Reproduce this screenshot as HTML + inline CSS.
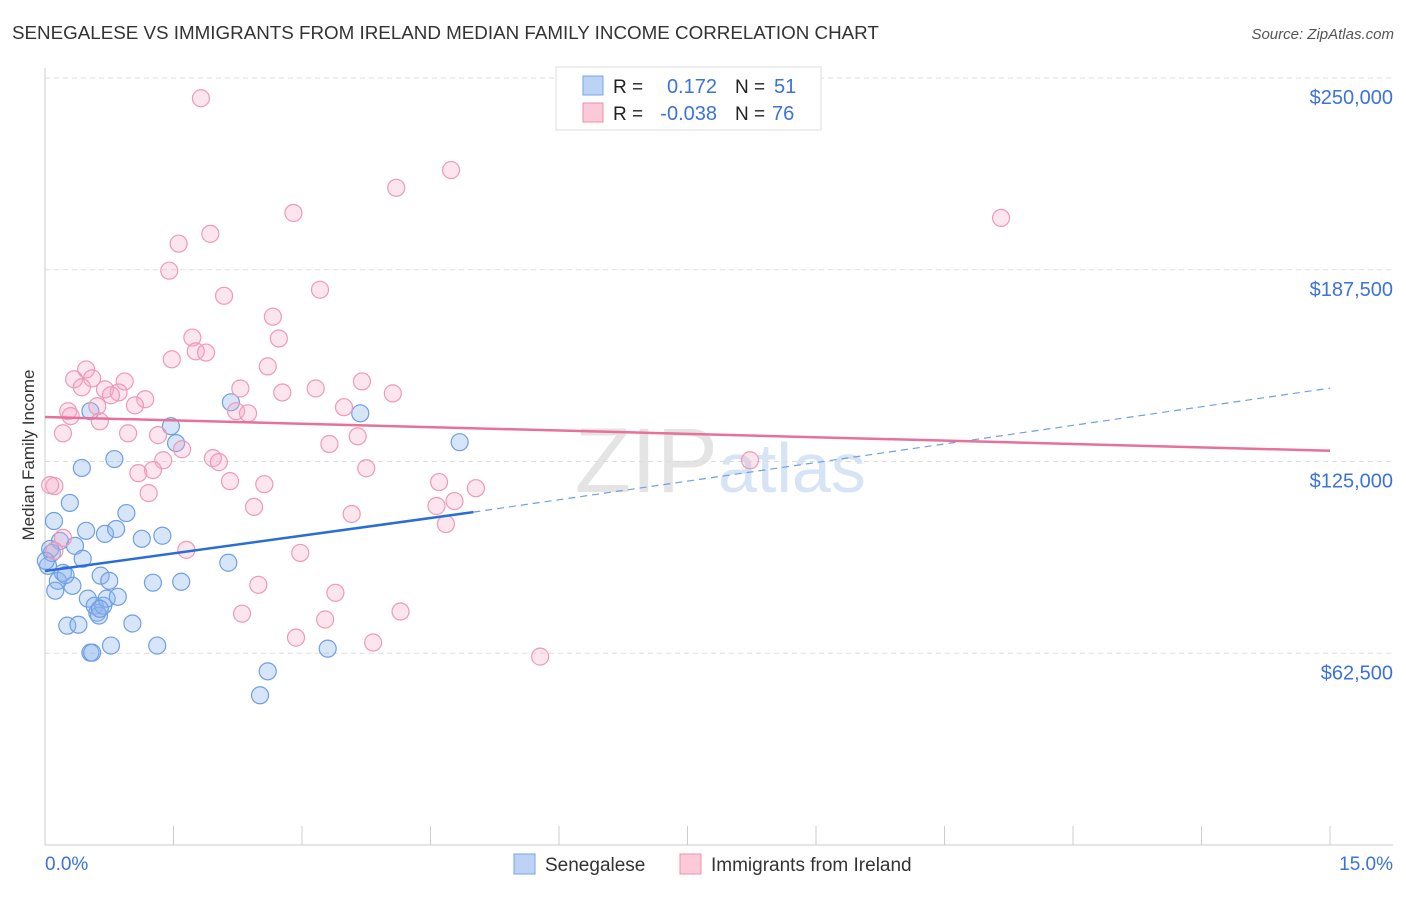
<!DOCTYPE html>
<html><head><meta charset="utf-8"><style>
body{margin:0;background:#fff;font-family:"Liberation Sans",sans-serif;}
svg text{font-family:"Liberation Sans",sans-serif;}
</style></head><body>
<svg id="chart" width="1406" height="892" xmlns="http://www.w3.org/2000/svg">
<text x="12" y="39" font-size="18.8" fill="#333">SENEGALESE VS IMMIGRANTS FROM IRELAND MEDIAN FAMILY INCOME CORRELATION CHART</text>
<text x="1394" y="39" font-size="15" fill="#555" font-style="italic" text-anchor="end">Source: ZipAtlas.com</text>
<text x="718" y="492" font-size="92" fill="#e4e4e4" text-anchor="end" font-family="Liberation Serif">ZIP</text>
<text x="718" y="492" font-size="70" fill="#d6e4f5">atlas</text>
<g id="grid"></g>
<g id="axes"></g>
<g id="points"></g>
<g id="trends"></g>
<text x="34" y="455" font-size="17" fill="#333" text-anchor="middle" transform="rotate(-90 34 455)">Median Family Income</text>
<text x="45" y="870" font-size="19" fill="#3b73d8">0.0%</text>
<text x="1393" y="870" font-size="19" fill="#3b73d8" text-anchor="end">15.0%</text>
<g>
<rect x="556" y="67" width="265" height="63" fill="#fff" stroke="#ddd"/>
<rect x="583" y="76" width="20" height="19" fill="#bcd3f5" stroke="#7aa5e6"/>
<rect x="583" y="103" width="20" height="19" fill="#fbc9d7" stroke="#ee8fae"/>
<text x="613" y="93" font-size="19" fill="#222">R =</text>
<text x="717" y="93" font-size="20" fill="#3b73d8" text-anchor="end">0.172</text>
<text x="735" y="93" font-size="19" fill="#222">N =</text>
<text x="774" y="93" font-size="20" fill="#3b73d8">51</text>
<text x="613" y="120" font-size="19" fill="#222">R =</text>
<text x="717" y="120" font-size="20" fill="#3b73d8" text-anchor="end">-0.038</text>
<text x="735" y="120" font-size="19" fill="#222">N =</text>
<text x="772" y="120" font-size="20" fill="#3b73d8">76</text>
</g>
<g>
<rect x="514" y="854" width="21" height="20" fill="#bcd3f5" stroke="#7aa5e6"/>
<text x="545" y="871" font-size="19" fill="#333">Senegalese</text>
<rect x="680" y="854" width="21" height="20" fill="#fbc9d7" stroke="#ee8fae"/>
<text x="711" y="871" font-size="19" fill="#333">Immigrants from Ireland</text>
</g>
</svg>
<script>
const yTicks=[62500,125000,187500,250000];
const yTickLabels=["$62,500","$125,000","$187,500","$250,000"];
const blueX=[0.035,0.08,0.105,0.15,0.175,0.21,0.26,0.29,0.32,0.35,0.39,0.43,0.44,0.48,0.50,0.53,0.55,0.58,0.61,0.63,0.65,0.68,0.70,0.72,0.75,0.77,0.81,0.83,0.85,0.95,1.02,1.13,1.26,1.31,1.37,1.47,1.53,1.59,2.14,2.17,2.51,2.60,3.30,3.68,4.84,0.53,0.06,0.12,0.64,0.01,0.24];
const blueY=[91000,95200,105600,86100,99100,88700,71500,111500,84500,97500,71800,122900,93300,102400,80300,62700,62700,78000,75700,74800,87800,78000,101400,80300,86100,65000,125800,103000,80900,108200,72200,99800,85500,65000,100800,136500,131000,85800,92000,144300,48800,56600,64000,140700,131300,141400,96500,82900,77000,92600,88000];
const pinkX=[1.82,4.74,4.10,11.16,2.90,1.93,1.56,1.45,3.21,2.09,2.66,1.72,2.73,1.76,1.88,1.48,0.48,2.60,0.34,0.55,0.93,3.70,0.43,0.70,2.28,3.16,0.86,0.77,2.77,4.06,1.17,1.05,0.61,3.49,0.27,2.23,2.37,0.30,0.64,0.21,0.97,1.32,3.65,3.32,1.60,1.96,2.03,1.38,8.23,3.75,1.26,1.09,2.16,2.56,4.60,5.03,0.11,1.21,4.78,4.57,2.44,3.58,4.68,0.21,0.11,1.65,2.98,2.49,3.39,4.15,2.30,3.27,2.93,3.83,5.78,0.06];
const pinkY=[243400,220000,214200,204400,206000,199200,196000,187200,181000,179000,172200,165400,165100,160900,160500,158300,155000,156000,151800,152100,151100,151100,149200,148500,148800,148800,147500,146600,147500,147200,145300,143300,143000,142700,141400,141400,140700,139800,138100,134200,134200,133600,133200,130700,129000,126100,124800,125400,125400,122800,122200,121200,118600,117600,118300,116300,117000,114700,112100,110500,110200,107900,104600,100100,95900,96200,95200,84800,82200,76100,75400,73500,67600,66000,61400,117300];
const blueTrend=[0,89300,5,108500,15,148900];
const pinkTrend=[0,139500,15,128500];
const X0=45,X1=1330,Y0=845,Yv=250000,Ytop=78;
const sx=v=>X0+(v/15)*(X1-X0);
const sy=v=>Y0-(v/Yv)*(Y0-Ytop);
const NS="http://www.w3.org/2000/svg";
function mk(tag,attrs,parent){const e=document.createElementNS(NS,tag);for(const k in attrs)e.setAttribute(k,attrs[k]);parent.appendChild(e);return e;}
const grid=document.getElementById('grid'),axes=document.getElementById('axes'),pts=document.getElementById('points'),tr=document.getElementById('trends');
yTicks.forEach((t,i)=>{
 const l=mk('line',{x1:X0,x2:1393,y1:sy(t),y2:sy(t),stroke:'#ddd','stroke-dasharray':'5,4'},grid);
 
 
 const tx=mk('text',{x:1393,y:sy(t)+26,'font-size':20,fill:'#3b73d8','text-anchor':'end'},grid);
 tx.textContent=yTickLabels[i];
 
 
});
const ya=mk('line',{x1:X0,x2:X0,y1:68,y2:Y0,stroke:'#ccc'},axes);


const xa=mk('line',{x1:X0,x2:1393,y1:Y0,y2:Y0,stroke:'#ccc'},axes);


for(let i=1;i<=10;i++){
 const t=mk('line',{x1:sx(i*1.5),x2:sx(i*1.5),y1:826,y2:Y0,stroke:'#ccc'},axes);
 
 
}
blueX.forEach((x,i)=>{
 const c=mk('circle',{cx:sx(x),cy:sy(blueY[i]),r:8.5,fill:'rgba(140,180,238,0.35)',stroke:'#6f9fe4','stroke-width':1.2},pts);
 
 
});
pinkX.forEach((x,i)=>{
 const c=mk('circle',{cx:sx(x),cy:sy(pinkY[i]),r:8.5,fill:'rgba(246,170,195,0.3)',stroke:'#ee9ab5','stroke-width':1.2},pts);
 
 
});
const bl=mk('line',{x1:sx(blueTrend[0]),y1:sy(blueTrend[1]),x2:sx(blueTrend[2]),y2:sy(blueTrend[3]),stroke:'#2a6dd6','stroke-width':2.5},tr);


const bd=mk('line',{x1:sx(blueTrend[2]),y1:sy(blueTrend[3]),x2:sx(blueTrend[4]),y2:sy(blueTrend[5]),stroke:'#6f9fe4','stroke-width':1.2,'stroke-dasharray':'7,5'},tr);


const pl=mk('line',{x1:sx(pinkTrend[0]),y1:sy(pinkTrend[1]),x2:sx(pinkTrend[2]),y2:sy(pinkTrend[3]),stroke:'#e8709a','stroke-width':2.5},tr);


</script>
</body></html>
